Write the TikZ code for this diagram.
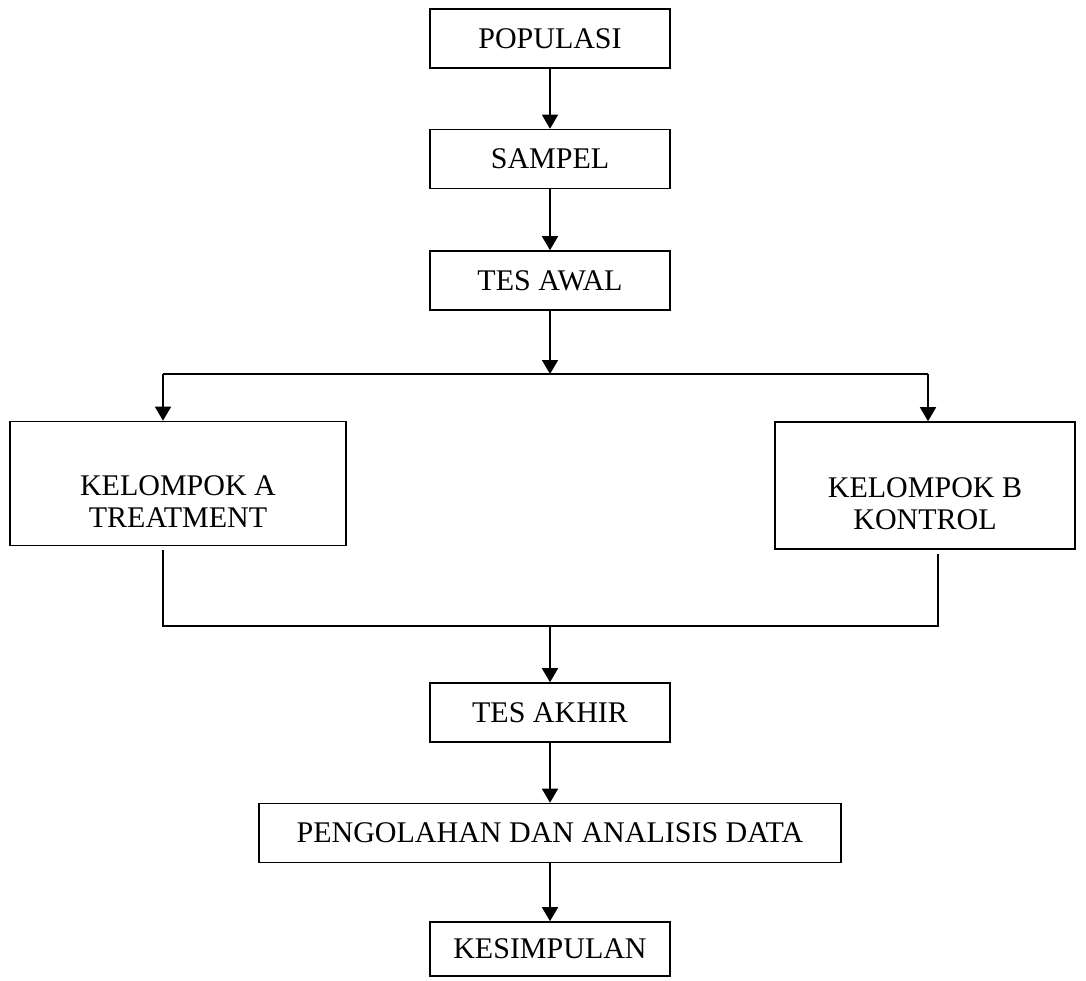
\documentclass[tikz,border=0pt]{standalone}
\usepackage{fontspec}
\setmainfont{Liberation Serif}
\usetikzlibrary{positioning,arrows.meta}

\begin{document}
\begin{tikzpicture}[
    x=0.5pt, y=-0.5pt,
    line width=0.8pt,
    >={Triangle[width=8pt,length=7pt]},
    box/.style={
        draw,
        rectangle,
        minimum width=120pt,
        minimum height=29.5pt,
        inner sep=0pt,
        align=center,
        font=\fontsize{15}{16}\selectfont
    },
    groupbox/.style={
        box,
        minimum height=62pt
    }
]
\useasboundingbox (0,0) rectangle (1086,980);

\node[box] (populasi) at (550,38.5) {POPULASI};
\node[box] (sampel) at (550,159) {SAMPEL};
\node[box] (tesawal) at (550,280.5) {TES AWAL};
\node[groupbox, minimum width=168pt,
    label={[font=\fontsize{15}{16}\selectfont, align=center, yshift=-9pt]center:KELOMPOK A\\TREATMENT}]
    (kelA) at (178,483.5) {};
\node[groupbox, minimum width=150pt, minimum height=63.5pt,
    label={[font=\fontsize{15}{16}\selectfont, align=center, yshift=-9pt]center:KELOMPOK B\\KONTROL}]
    (kelB) at (925,485.5) {};
\node[box] (tesakhir) at (550,712.5) {TES AKHIR};
\node[box, minimum width=291pt] (olah) at (550,833) {PENGOLAHAN DAN ANALISIS DATA};
\node[box, minimum height=27pt] (simpulan) at (550,949) {KESIMPULAN};

\coordinate (split) at (550,374);
\coordinate (splitA) at (163,374);
\coordinate (splitB) at (928,374);
\coordinate (join) at (550,626);
\coordinate (joinA) at (163,626);
\coordinate (joinB) at (938,626);

\draw[->] (populasi) -- (sampel);
\draw[->] (sampel) -- (tesawal);
\draw[->] (tesawal) -- (split);
\draw (splitA) -- (splitB);
\draw[->] (splitA) -- (splitA |- kelA.north);
\draw[->] (splitB) -- (splitB |- kelB.north);
\draw ([yshift=-2pt]joinA |- kelA.south) -- (joinA) -- (joinB) -- ([yshift=-2pt]joinB |- kelB.south);
\draw[->] (join) -- (tesakhir);
\draw[->] (tesakhir) -- (olah);
\draw[->] (olah) -- (simpulan);

\end{tikzpicture}
\end{document}
